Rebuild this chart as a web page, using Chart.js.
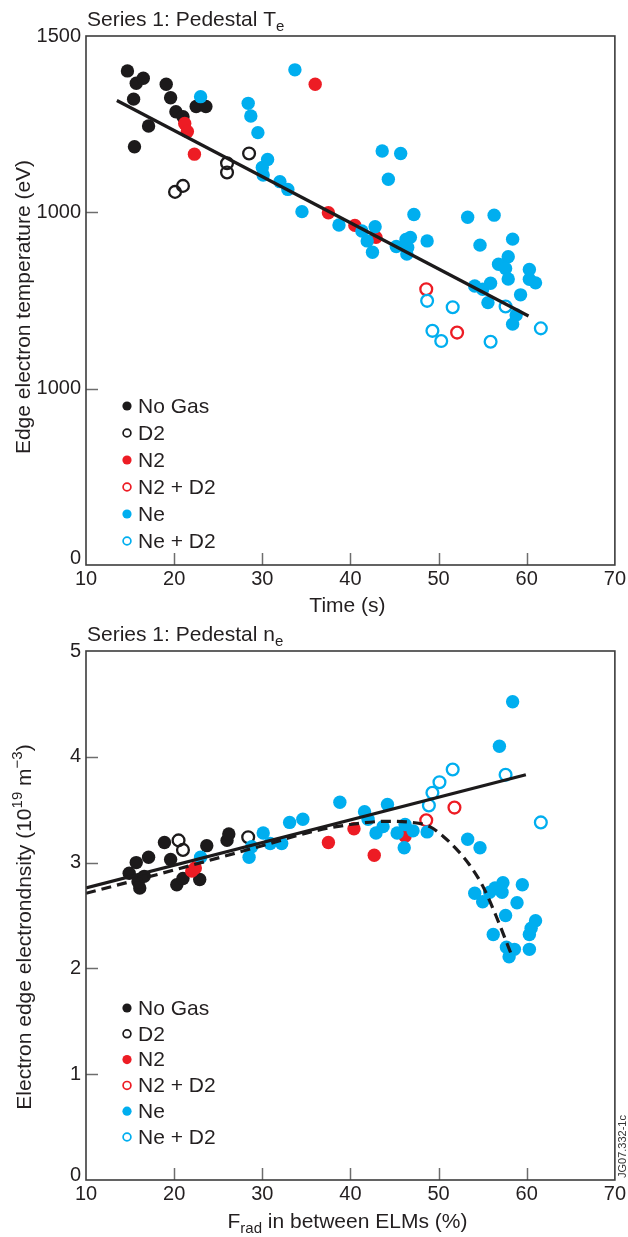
<!DOCTYPE html>
<html>
<head>
<meta charset="utf-8">
<script src="https://cdn.jsdelivr.net/npm/chart.js@4.4.0/dist/chart.umd.min.js"></script>
<style>
html,body{margin:0;padding:0;background:#fff;}
body{width:628px;height:1237px;position:relative;overflow:hidden;}
.w{position:absolute;left:0;width:628px;}
canvas{display:block;}
</style>
</head>
<body>
<div class="w" style="top:0;height:620px"><canvas id="c1" width="628" height="620"></canvas></div>
<div class="w" style="top:620px;height:617px"><canvas id="c2" width="628" height="617"></canvas></div>
<script>
// ---------- DATA ----------
const xTickValues = [10, 20, 30, 40, 50, 60, 70];
const xTickLabels = ['10', '20', '30', '40', '50', '60', '70'];
const teTickValues = [0, 500, 1000, 1500];
const teTickLabels = ['0', '1000', '1000', '1500'];
const neTickValues = [0, 1, 2, 3, 4, 5];
const neTickLabels = ['0', '1', '2', '3', '4', '5'];
const legendLabels = ['No Gas', 'D2', 'N2', 'N2 + D2', 'Ne', 'Ne + D2'];

// Top panel: Time (s) vs pedestal Te (eV)
const teNoGas = [[14.7,1401],[15.7,1366],[16.5,1380],[15.4,1321],[17.1,1245],[15.5,1186],[19.1,1363],[19.6,1325],[20.2,1285],[21.0,1271],[22.5,1300],[23.6,1300]];
const teD2 = [[20.1,1058],[21.0,1075],[26.0,1139],[26.0,1113],[28.5,1167]];
const teN2 = [[21.2,1252],[21.5,1229],[22.3,1165],[36.0,1363],[37.5,999],[40.5,963],[42.9,929]];
const teN2D2 = [[48.6,782],[52.1,659]];
const teNe = [[23.0,1328],[33.7,1404],[28.4,1309],[28.7,1273],[29.5,1226],[30.6,1150],[30.0,1127],[30.1,1106],[32.0,1087],[32.9,1065],[34.5,1002],[43.6,1174],[45.7,1167],[44.3,1094],[47.2,994],[53.3,986],[56.3,992],[38.7,964],[41.3,947],[42.8,959],[41.9,919],[42.5,887],[45.2,903],[46.3,923],[46.8,929],[46.5,900],[46.4,882],[48.7,919],[54.7,907],[58.4,924],[57.9,874],[56.8,853],[57.6,841],[57.9,811],[55.9,799],[54.1,791],[55.0,782],[60.3,838],[60.3,810],[61.0,800],[59.3,766],[55.6,744],[58.8,709],[58.4,683]];
const teNeD2 = [[48.7,749],[51.6,731],[49.3,664],[50.3,635],[55.9,633],[57.6,733],[61.6,671]];
const teFit = [[13.5,1317],[60.2,706]];

// Bottom panel: Frad (%) vs pedestal ne (1e19 m^-3)
const neNoGas = [[18.9,3.19],[17.1,3.05],[15.7,3.00],[19.6,3.03],[23.7,3.16],[26.0,3.21],[26.2,3.27],[14.9,2.90],[16.1,2.76],[15.9,2.82],[16.6,2.87],[20.3,2.79],[21.0,2.85],[22.9,2.84]];
const neD2 = [[20.5,3.21],[21.0,3.12],[28.4,3.24]];
const neN2 = [[22.0,2.92],[22.4,2.95],[37.5,3.19],[40.4,3.32],[42.7,3.07],[46.2,3.25]];
const neN2D2 = [[48.6,3.40],[51.8,3.52]];
const neNe = [[23.0,3.05],[28.5,3.05],[28.8,3.15],[30.1,3.28],[30.9,3.18],[32.2,3.18],[33.1,3.38],[34.6,3.41],[38.8,3.57],[41.6,3.48],[42.0,3.41],[42.9,3.28],[43.7,3.34],[44.2,3.55],[45.3,3.28],[46.2,3.36],[47.1,3.30],[46.1,3.14],[48.7,3.29],[53.3,3.22],[54.7,3.14],[56.9,4.10],[58.4,4.52],[54.1,2.71],[55.0,2.63],[55.8,2.72],[56.4,2.76],[57.3,2.81],[57.2,2.72],[59.5,2.79],[58.9,2.62],[57.6,2.50],[56.2,2.32],[57.7,2.20],[58.6,2.18],[58.0,2.11],[60.3,2.18],[60.3,2.32],[60.5,2.38],[61.0,2.45]];
const neNeD2 = [[48.9,3.54],[49.3,3.66],[50.1,3.76],[51.6,3.88],[57.6,3.83],[61.6,3.38]];
const neFit = [[10.0,2.76],[59.9,3.83]];
const neTrend = [[10.0,2.71],[20.0,2.93],[30.0,3.16],[36.0,3.30],[40.0,3.36],[44.0,3.39],[47.0,3.38],[49.0,3.34],[50.5,3.25],[52.0,3.13],[53.5,2.98],[55.0,2.78],[56.5,2.50],[58.4,2.10]];

// ---------- STYLE ----------
const FONT = '"Liberation Sans", Arial, Helvetica, sans-serif';
const INK = '#231f20';
const BLACK = '#1c1a1b', RED = '#ed1c24', BLUE = '#00aeef';
const seriesStyle = [
  {color: BLACK, open: false},
  {color: BLACK, open: true},
  {color: RED, open: false},
  {color: RED, open: true},
  {color: BLUE, open: false},
  {color: BLUE, open: true}
];

const pts = a => a.map(p => ({x: p[0], y: p[1]}));

function pointSets(groups) {
  return groups.map((g, i) => {
    const st = seriesStyle[i];
    return {
      type: 'scatter',
      label: legendLabels[i],
      data: pts(g),
      showLine: false,
      pointRadius: st.open ? 5.9 : 6.7,
      pointHoverRadius: st.open ? 5.9 : 6.7,
      pointBorderWidth: st.open ? 2.3 : 0,
      pointBorderColor: st.color,
      pointBackgroundColor: st.open ? 'rgba(255,255,255,0)' : st.color,
      order: 10 - i,
      _open: st.open,
      _color: st.color
    };
  });
}

function lineSet(d, dash, smooth) {
  return {
    type: 'line',
    label: '',
    data: pts(d),
    borderColor: BLACK,
    borderWidth: 3.2,
    borderDash: dash || [],
    pointRadius: 0,
    fill: false,
    tension: smooth ? 0.4 : 0,
    cubicInterpolationMode: smooth ? 'monotone' : 'default',
    order: 0,
    _line: true
  };
}

function rich(ctx, parts, x, y, align) {
  let w = 0;
  parts.forEach(p => { ctx.font = (p.size || 21) + 'px ' + FONT; p._w = ctx.measureText(p.t).width; w += p._w; });
  let cx = align === 'center' ? x - w / 2 : (align === 'right' ? x - w : x);
  ctx.textAlign = 'left';
  ctx.textBaseline = 'alphabetic';
  parts.forEach(p => {
    ctx.font = (p.size || 21) + 'px ' + FONT;
    ctx.fillText(p.t, cx, y + (p.dy || 0));
    cx += p._w;
  });
}

const decor = {
  id: 'decor',
  afterDraw(chart, args, o) {
    const ctx = chart.ctx, ca = chart.chartArea, xs = chart.scales.x, ys = chart.scales.y;
    ctx.save();
    // inward tick marks
    ctx.strokeStyle = '#6d6d6d';
    ctx.lineWidth = 1.5;
    xTickValues.slice(1, -1).forEach(v => {
      const px = Math.round(xs.getPixelForValue(v)) + 0.5;
      ctx.beginPath(); ctx.moveTo(px, ca.bottom); ctx.lineTo(px, ca.bottom - 12); ctx.stroke();
    });
    o.yTicks.slice(1, -1).forEach(v => {
      const py = Math.round(ys.getPixelForValue(v)) + 0.5;
      ctx.beginPath(); ctx.moveTo(ca.left, py); ctx.lineTo(ca.left + 12, py); ctx.stroke();
    });
    // frame
    ctx.strokeStyle = '#3c3c3c';
    ctx.lineWidth = 1.6;
    ctx.strokeRect(ca.left, ca.top, ca.right - ca.left, ca.bottom - ca.top);
    // texts
    ctx.fillStyle = INK;
    rich(ctx, o.title, ca.left + 1, o.titleY, 'left');
    rich(ctx, o.xTitle, (ca.left + ca.right) / 2 - 3, o.xTitleY, 'center');
    ctx.save();
    ctx.translate(o.yTitleX, o.yTitleCy);
    ctx.rotate(-Math.PI / 2);
    rich(ctx, o.yTitle, 0, 0, 'center');
    ctx.restore();
    // legend
    const sets = chart.data.datasets.filter(d => !d._line);
    sets.forEach((d, i) => {
      const y = o.legY0 + i * o.legDy;
      ctx.beginPath();
      if (d._open) {
        ctx.arc(o.legX, y, 3.9, 0, Math.PI * 2);
        ctx.strokeStyle = d._color; ctx.lineWidth = 1.7; ctx.stroke();
      } else {
        ctx.arc(o.legX, y, 4.6, 0, Math.PI * 2);
        ctx.fillStyle = d._color; ctx.fill();
      }
      ctx.fillStyle = INK;
      ctx.font = '21px ' + FONT;
      ctx.textAlign = 'left';
      ctx.textBaseline = 'middle';
      ctx.fillText(d.label, o.legX + 11, y + 1);
    });
    if (o.note) {
      ctx.save();
      ctx.translate(o.note.x, o.note.y);
      ctx.rotate(-Math.PI / 2);
      ctx.font = '11px ' + FONT;
      ctx.fillStyle = '#333';
      ctx.textAlign = 'left';
      ctx.textBaseline = 'alphabetic';
      ctx.fillText(o.note.t, 0, 0);
      ctx.restore();
    }
    ctx.restore();
  }
};

function makeChart(id, cfg) {
  const tickFont = ctx => ({family: FONT, size: 20, lineHeight: (ctx.index === 0 ? cfg.zeroShift * 2 : 24) + 'px'});
  return new Chart(document.getElementById(id), {
    data: {datasets: cfg.datasets},
    options: {
      responsive: false,
      animation: false,
      events: [],
      layout: {padding: {top: cfg.padTop, right: 13, left: 0, bottom: 0}},
      plugins: {
        legend: {display: false},
        tooltip: {enabled: false},
        decor: cfg.decor
      },
      scales: {
        x: {
          type: 'linear', min: 10, max: 70,
          afterBuildTicks: s => { s.ticks = xTickValues.map(v => ({value: v})); },
          afterFit: s => { s.height = cfg.xHeight; },
          ticks: {
            autoSkip: false, maxRotation: 0, padding: cfg.xPad, color: INK,
            font: {family: FONT, size: 20, lineHeight: 1.2},
            callback: (v, i) => xTickLabels[i]
          },
          grid: {display: false, drawTicks: false},
          border: {display: false}
        },
        y: {
          type: 'linear', min: cfg.yTicks[0], max: cfg.yTicks[cfg.yTicks.length - 1],
          afterBuildTicks: s => { s.ticks = cfg.yTicks.map(v => ({value: v})); },
          afterFit: s => { s.width = 86; },
          ticks: {
            autoSkip: false, padding: 5, color: INK,
            font: tickFont,
            callback: (v, i) => (i === 0 ? [cfg.yLabels[i], ''] : cfg.yLabels[i])
          },
          grid: {display: false, drawTicks: false},
          border: {display: false}
        }
      }
    },
    plugins: [decor]
  });
}

makeChart('c1', {
  padTop: 36, xHeight: 55, xPad: 2, zeroShift: 7,
  yTicks: teTickValues, yLabels: teTickLabels,
  datasets: [...pointSets([teNoGas, teD2, teN2, teN2D2, teNe, teNeD2]), lineSet(teFit)],
  decor: {
    yTicks: teTickValues,
    title: [{t: 'Series 1: Pedestal T'}, {t: 'e', size: 15, dy: 5}],
    titleY: 26,
    xTitle: [{t: 'Time (s)'}],
    xTitleY: 612,
    yTitle: [{t: 'Edge electron temperature (eV)'}],
    yTitleX: 30, yTitleCy: 307,
    legX: 127, legY0: 406, legDy: 27
  }
});

makeChart('c2', {
  padTop: 31, xHeight: 57, xPad: 2, zeroShift: 5,
  yTicks: neTickValues, yLabels: neTickLabels,
  datasets: [...pointSets([neNoGas, neD2, neN2, neN2D2, neNe, neNeD2]), lineSet(neFit), lineSet(neTrend, [10, 6], true)],
  decor: {
    yTicks: neTickValues,
    title: [{t: 'Series 1: Pedestal n'}, {t: 'e', size: 15, dy: 5}],
    titleY: 21,
    xTitle: [{t: 'F'}, {t: 'rad', size: 15, dy: 5}, {t: ' in between ELMs (%)'}],
    xTitleY: 608,
    yTitle: [{t: 'Electron edge electrondnsity (10'}, {t: '19', size: 15, dy: -9}, {t: ' m'}, {t: '\u22123', size: 15, dy: -9}, {t: ')'}],
    yTitleX: 31, yTitleCy: 307,
    legX: 127, legY0: 388, legDy: 25.8,
    note: {t: 'JG07.332-1c', x: 626, y: 558}
  }
});
</script>
</body>
</html>
